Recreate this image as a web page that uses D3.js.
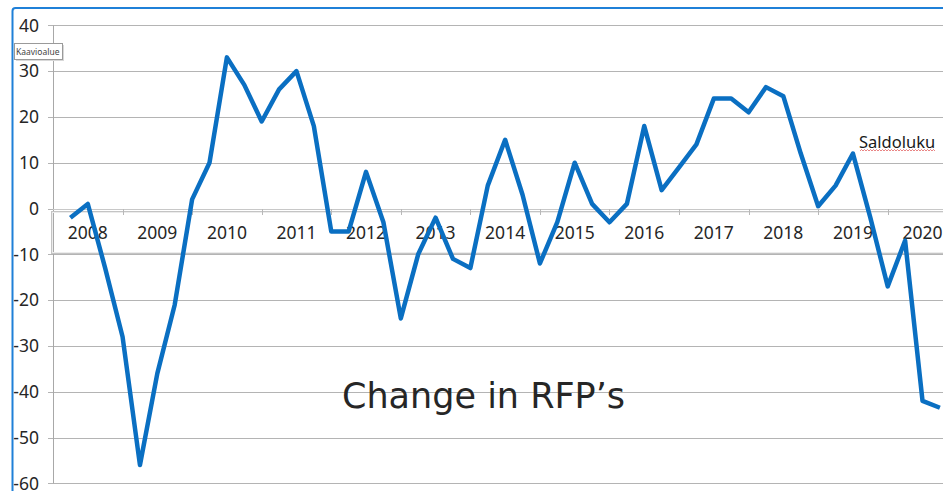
<!DOCTYPE html>
<meta charset="utf-8">
<style>
  body { margin: 0; background: #fff; }
  .tick-label { font-family: "Noto Sans", sans-serif; font-size: 17.5px; fill: #262626; }
  .grid line { stroke: #b4b4b4; stroke-width: 1; shape-rendering: crispEdges; }
</style>
<body>
<script src="https://d3js.org/d3.v7.min.js"></script>
<script>
// quarterly values, first point = 2008 Q1
var years = ['2008','2009','2010','2011','2012','2013','2014','2015','2016','2017','2018','2019','2020'];
var values = [-2, 1, -13, -28, -56, -36, -21, 2, 10, 33, 27, 19, 26, 30, 18, -5, -5, 8, -3, -24,
              -10, -2, -11, -13, 5, 15, 3, -12, -3, 10, 1, -3, 1, 18, 4, 9, 14, 24, 24, 21,
              26.5, 24.5, 12, 0.5, 5, 12, -2, -17, -7, -42, -43.5];
var yTicks = [40, 30, 20, 10, 0, -10, -20, -30, -40, -50, -60];

var width = 943, height = 491;
var step = 17.39;

var x = d3.scaleLinear()
    .domain([-1, 51])
    .range([53, 53 + 52 * step]);

var y = d3.scaleLinear()
    .domain([-60, 40])
    .range([483.3, 25.3]);

var svg = d3.select('body').append('svg')
    .attr('width', width)
    .attr('height', height);

// horizontal gridlines
svg.append('g').attr('class', 'grid')
  .selectAll('line')
  .data(yTicks)
  .enter().append('line')
    .attr('x1', 48).attr('x2', width)
    .attr('y1', function(d) { return Math.round(y(d)) + 0.5; })
    .attr('y2', function(d) { return Math.round(y(d)) + 0.5; });

// value axis line
svg.append('line')
    .attr('x1', 53.5).attr('x2', 53.5)
    .attr('y1', y(40)).attr('y2', y(-60))
    .style('stroke', '#a8a8a8');

svg.append('g')
  .selectAll('text')
  .data(yTicks)
  .enter().append('text')
    .attr('class', 'tick-label')
    .attr('x', 39)
    .attr('y', function(d) { return y(d); })
    .attr('dy', '0.36em')
    .attr('text-anchor', 'end')
    .text(function(d) { return d; });

// box around category labels
svg.append('rect')
    .attr('x', 51.5).attr('y', 211.5)
    .attr('width', 1000).attr('height', 42)
    .style('fill', 'none')
    .style('stroke', '#c4c4c4');
svg.append('rect')
    .attr('x', 52.5).attr('y', 212.5)
    .attr('width', 1000).attr('height', 40)
    .style('fill', 'none')
    .style('stroke', '#ececec');

// category axis with tick marks between years
svg.append('line')
    .attr('x1', 53).attr('x2', width)
    .attr('y1', 209.5).attr('y2', 209.5)
    .style('stroke', '#c8c8c8');

svg.append('g')
  .selectAll('line')
  .data(d3.range(1, 14))
  .enter().append('line')
    .attr('x1', function(k) { return Math.round(x(4 * k - 1)) + 0.5; })
    .attr('x2', function(k) { return Math.round(x(4 * k - 1)) + 0.5; })
    .attr('y1', 209).attr('y2', 215)
    .style('stroke', '#b8b8b8');

svg.append('g')
  .selectAll('text')
  .data(years)
  .enter().append('text')
    .attr('class', 'tick-label')
    .attr('x', function(d, i) { return x(4 * i + 1); })
    .attr('y', 239)
    .attr('text-anchor', 'middle')
    .text(function(d) { return d; });

// the series
var line = d3.line()
    .x(function(d, i) { return x(i); })
    .y(function(d) { return y(d); });

svg.append('path')
    .datum(values)
    .attr('d', line)
    .style('fill', 'none')
    .style('stroke', '#0a6fc2')
    .style('stroke-width', 4.5)
    .style('stroke-linejoin', 'round');

svg.append('text')
    .attr('x', 342)
    .attr('y', 408)
    .style('font-family', '"DejaVu Sans", sans-serif')
    .style('font-size', '35px')
    .style('fill', '#262626')
    .text('Change in RFP\u2019s');

svg.append('text')
    .attr('x', 859)
    .attr('y', 147.5)
    .style('font-family', '"Noto Sans", sans-serif')
    .style('font-size', '16.5px')
    .style('fill', '#1a1a1a')
    .text('Saldoluku');

// spell check squiggle
var sq = [];
for (var px = 860; px <= 935; px += 1.5) sq.push([px, (Math.round((px - 860) / 1.5) % 2) ? 149.5 : 151]);
svg.append('path')
    .attr('d', d3.line()(sq))
    .style('fill', 'none')
    .style('stroke', '#e05050')
    .style('stroke-width', 0.7);

// chart area frame
svg.append('path')
    .attr('d', 'M12.5,' + height + ' V11 Q12.5,8 15.5,8 H' + width)
    .style('fill', 'none')
    .style('stroke', '#1f80d8')
    .style('stroke-width', 2);

// hover tooltip
svg.append('rect')
    .attr('x', 16).attr('y', 45)
    .attr('width', 48).attr('height', 16)
    .style('fill', '#d8d8d8');
svg.append('rect')
    .attr('x', 14.5).attr('y', 43.5)
    .attr('width', 48).attr('height', 16)
    .style('fill', '#fff')
    .style('stroke', '#9a9a9a');
svg.append('text')
    .attr('x', 16)
    .attr('y', 55)
    .style('font-family', '"Noto Sans", sans-serif')
    .style('font-size', '8.5px')
    .style('fill', '#444')
    .text('Kaavioalue');
</script>
</body>
</html>
